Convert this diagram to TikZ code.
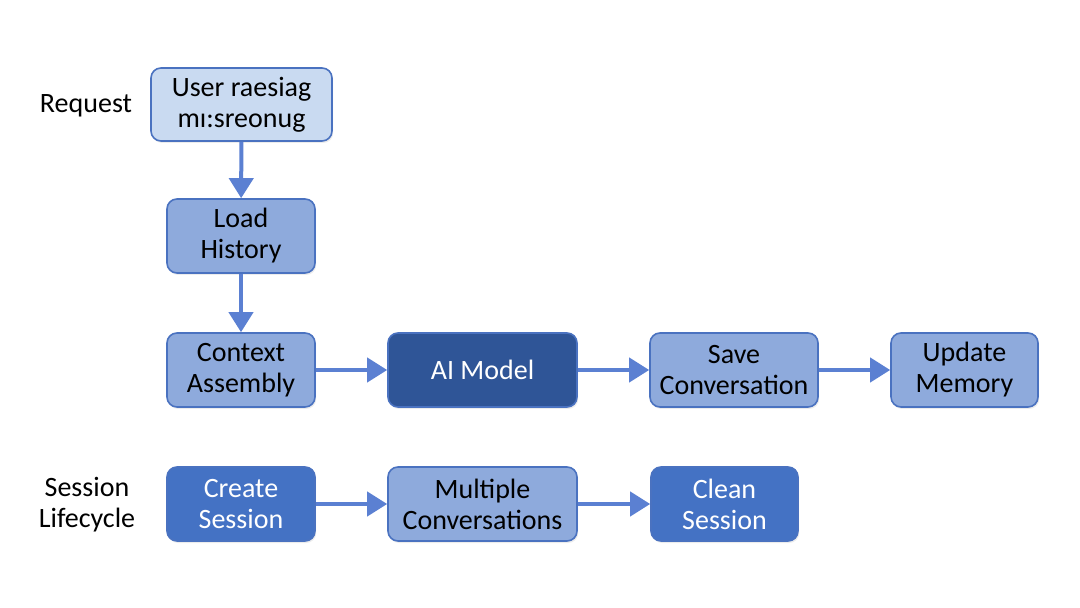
\documentclass[tikz,border=0pt]{standalone}
\usepackage{fontspec}
\setmainfont{Carlito}
\usepackage{tikz}
\usetikzlibrary{arrows.meta,shadows}
\definecolor{paleblue}{HTML}{C9DAF1}
\definecolor{midblue}{HTML}{8EAADC}
\definecolor{deepblue}{HTML}{2F5597}
\definecolor{baseblue}{HTML}{4472C4}
\definecolor{edgeblue}{HTML}{4A72C0}
\definecolor{flowblue}{HTML}{5B80D2}

\begin{document}
\begin{tikzpicture}[x=0.5pt, y=-0.5pt,
    box/.style={rectangle, rounded corners=5pt, draw=edgeblue, line width=0.8pt,
        align=center, font=\fontsize{14}{15.5}\selectfont, inner sep=0pt,
        drop shadow={shadow xshift=0.6pt, shadow yshift=-1pt, opacity=0.15}},
    lightbox/.style={box, fill=paleblue, text=black},
    midbox/.style={box, fill=midblue, text=black},
    darkbox/.style={box, fill=deepblue, text=white},
    solidbox/.style={box, fill=baseblue, text=white},
    flow/.style={flowblue, line width=2pt, -{Triangle[length=10pt, width=12pt]}},
    rowlabel/.style={align=center, font=\fontsize{14}{15.5}\selectfont}]
        \useasboundingbox (0,0) rectangle (1080,608);
        % Row labels
        \node[rowlabel] (request) at (86,106) {Request};
        \node[rowlabel] (session) at (87,505) {Session\\Lifecycle};
        % Request flow
        \node[lightbox, minimum width=90.5pt, minimum height=36.5pt] (msg) at (241.5,104.5) {User raesiag\\mı:sreonug};
        \node[midbox, minimum width=74pt, minimum height=37pt] (load) at (241,236) {Load\\History};
        \node[midbox, minimum width=74pt, minimum height=37pt] (ctx) at (241,370) {Context\\Assembly};
        \node[darkbox, minimum width=94.5pt, minimum height=37pt] (ai) at (482.5,370) {AI Model};
        \node[midbox, minimum width=84pt, minimum height=37pt] (save) at (734,370) {Save\\Conversation};
        \node[midbox, minimum width=73.5pt, minimum height=37pt] (upd) at (964.5,370) {Update\\Memory};
        % Session lifecycle
        \node[solidbox, minimum width=74pt, minimum height=37pt] (create) at (241,504) {Create\\Session};
        \node[midbox, minimum width=94.5pt, minimum height=37pt] (multi) at (482.5,504) {Multiple\\Conversations};
        \node[solidbox, minimum width=73.5pt, minimum height=37pt] (clean) at (724.5,504) {Clean\\Session};
        % Arrows
        \draw[flow] (msg) -- (load);
        \draw[flow] (load) -- (ctx);
        \draw[flow] (ctx) -- (ai);
        \draw[flow] (ai) -- (save);
        \draw[flow] (save) -- (upd);
        \draw[flow] (create) -- (multi);
        \draw[flow] (multi) -- (clean);
    \end{tikzpicture}
\end{document}
